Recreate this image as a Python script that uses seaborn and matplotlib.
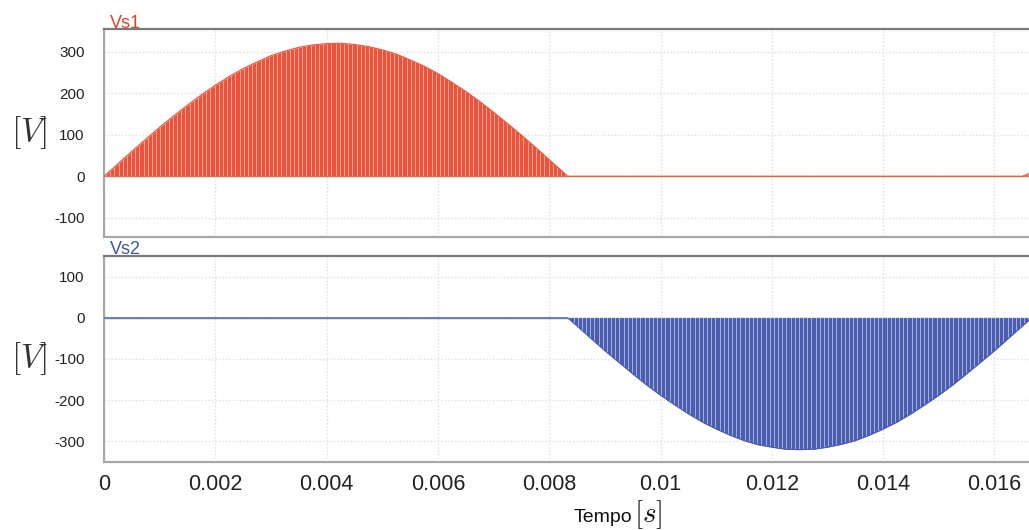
import numpy as np
import pandas as pd
import matplotlib
matplotlib.use("Agg")
import matplotlib.pyplot as plt
import seaborn as sns

# ---- data (envelope of the PWM pulses) ----
vs1_t = [0.0, 0.00025, 0.0005, 0.00075, 0.001, 0.00125, 0.0015, 0.00175, 0.002,
         0.00225, 0.0025, 0.00275, 0.003, 0.00325, 0.0035, 0.00375, 0.004, 0.00425,
         0.0045, 0.00475, 0.005, 0.00525, 0.0055, 0.00575, 0.006, 0.00625, 0.0065,
         0.00675, 0.007, 0.00725, 0.0075, 0.00775, 0.008, 0.00825, 0.00833,
         0.0165, 0.01662]
vs1_v = [0, 30, 60, 89, 118, 145, 171, 196, 219,
         240, 259, 275, 290, 301, 310, 316, 319, 320,
         317, 312, 304, 294, 280, 265, 247, 226, 204,
         180, 154, 127, 99, 70, 40, 10, 0,
         0, 6]

vs2_t = [0.0, 0.00833, 0.0085, 0.00875, 0.009, 0.00925, 0.0095, 0.00975, 0.01,
         0.01025, 0.0105, 0.01075, 0.011, 0.01125, 0.0115, 0.01175, 0.012, 0.01225,
         0.0125, 0.01275, 0.013, 0.01325, 0.0135, 0.01375, 0.014, 0.01425, 0.0145,
         0.01475, 0.015, 0.01525, 0.0155, 0.01575, 0.016, 0.01625, 0.0165, 0.01667]
vs2_v = [0, 0, -20, -50, -80, -108, -136, -163, -188,
         -211, -233, -253, -270, -285, -298, -308, -314, -319,
         -320, -319, -314, -307, -298, -285, -270, -253, -233,
         -211, -188, -163, -136, -108, -80, -50, -20, 0]

x_ticks = [0, 0.002, 0.004, 0.006, 0.008, 0.01, 0.012, 0.014, 0.016]
x_tick_labels = ["0", "0.002", "0.004", "0.006", "0.008", "0.01", "0.012", "0.014", "0.016"]
y1_ticks = [-100, 0, 100, 200, 300]
y2_ticks = [-300, -200, -100, 0, 100]
carrier_period = 7.5e-5  # spacing of the PWM switching gaps

df1 = pd.DataFrame({"t": vs1_t, "v": vs1_v})
df2 = pd.DataFrame({"t": vs2_t, "v": vs2_v})

sns.set_theme(style="white")
plt.rcParams["font.family"] = ["Liberation Sans", "DejaVu Sans"]
plt.rcParams["mathtext.fontset"] = "cm"

fig = plt.figure(figsize=(10.29, 5.30), dpi=100)
W, H = 1029, 530
left = 104 / W
width = (1031.5 - 104) / W
ax1 = fig.add_axes([left, 1 - 237 / H, width, (237 - 29.5) / H])
ax2 = fig.add_axes([left, 1 - 462 / H, width, (462 - 256) / H])

red = "#EC533A"
red_gap = "#F9CFC3"
blue = "#4B5DAE"
blue_gap = "#D0D6F0"

def draw(ax, df, col, gap_col, line_col):
    poly = ax.fill_between(df["t"], 0, df["v"], color=col, linewidth=0, zorder=2)
    gaps = np.arange(carrier_period * 0.5, 1 / 60, carrier_period)
    lc = ax.vlines(gaps, -400, 400, colors=gap_col, linewidth=0.6, alpha=0.8, zorder=3)
    lc.set_clip_path(poly.get_paths()[0], ax.transData)
    sns.lineplot(data=df, x="t", y="v", ax=ax, color=col, linewidth=0.8, zorder=4,
                 estimator=None, sort=False)
    ax.axhline(0, color=line_col, linewidth=1.0, zorder=1.5)

draw(ax1, df1, red, red_gap, "#EE9A86")
draw(ax2, df2, blue, blue_gap, "#7F8CCB")

for ax in (ax1, ax2):
    ax.set_xlim(0, 1 / 60)
    ax.set_xticks(x_ticks)
    ax.grid(True, color="#DEDEDE", linestyle=(0, (1, 1.5)), linewidth=1.0, zorder=0)
    for s in ("left", "bottom", "top"):
        ax.spines[s].set_color("#A8A8A8")
        ax.spines[s].set_linewidth(1.6)
    ax.spines["right"].set_visible(False)
    ax.spines["top"].set_color("#7A7A7A")
    ax.tick_params(axis="both", length=0)
    ax.set_xlabel("")
    ax.set_ylabel("")
    ax.set_facecolor("white")

ax1.set_ylim(-146, 353)
ax1.set_yticks(y1_ticks)
ax1.set_yticklabels([str(v) for v in y1_ticks], fontsize=11, color="#222222")
ax1.tick_params(axis="y", pad=14)
ax1.set_xticklabels([])

ax2.set_ylim(-350, 150)
ax2.set_yticks(y2_ticks)
ax2.set_yticklabels([str(v) for v in y2_ticks], fontsize=11, color="#222222")
ax2.tick_params(axis="y", pad=14)
ax2.set_xticklabels(x_tick_labels, fontsize=15.5, color="#222222")
ax2.tick_params(axis="x", pad=9)

ax1.text(0.006, 0.99, "Vs1", transform=ax1.transAxes, color="#E0412B", fontsize=13,
         ha="left", va="bottom")
ax2.text(0.006, 0.99, "Vs2", transform=ax2.transAxes, color="#3C56A8", fontsize=13,
         ha="left", va="bottom")

fig.text(29 / W, 1 - 133 / H, r"$[V]$", fontsize=24, ha="center", va="center", color="#333333")
fig.text(29 / W, 1 - 359 / H, r"$[V]$", fontsize=24, ha="center", va="center", color="#333333")
fig.text(632 / W, 1 - 517 / H, "Tempo", fontsize=14, ha="right", va="center", color="#111111")
fig.text(634 / W, 1 - 515 / H, r"$[s]$", fontsize=21, ha="left", va="center", color="#111111")

fig.savefig("out.png", dpi=100, facecolor="white")
